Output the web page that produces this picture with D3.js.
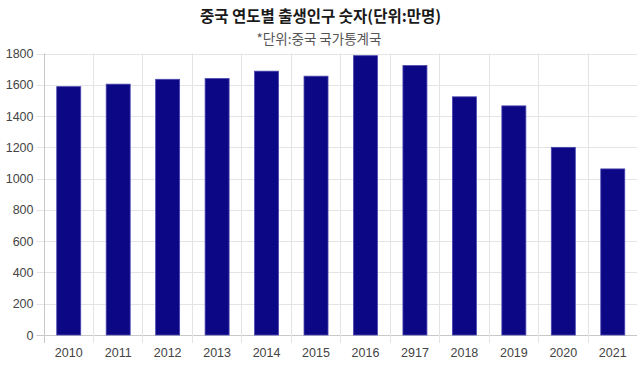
<!DOCTYPE html>
<html><head><meta charset="utf-8">
<script src="https://cdn.jsdelivr.net/npm/d3@7"></script>
<style>
body{margin:0;background:#fff;}
svg{display:block;}
text{font-family:"Liberation Sans",Arial,"Noto Sans CJK KR",sans-serif;}
</style></head>
<body>
<svg id="chart" width="640" height="366"></svg>
<script>
const title = "중국 연도별 출생인구 숫자(단위:만명)";
const subtitle = "*단위:중국 국가통계국";
const years = ["2010","2011","2012","2013","2014","2015","2016","2917","2018","2019","2020","2021"];
const births = [1588,1604,1635,1640,1687,1655,1786,1723,1523,1465,1200,1062];
const yTicks = [0,200,400,600,800,1000,1200,1400,1600,1800];

const W = 640, H = 366;
const m = {left: 43.5, right: 3, top: 53.5, bottom: 31};
const svg = d3.select("#chart");
const x = d3.scaleBand().domain(years).range([m.left, W - m.right]).padding(0);
const y = d3.scaleLinear().domain([0,1800]).range([H - m.bottom, m.top]);
const grid = "#e4e4e4";

// horizontal grid + ticks
svg.append("g").selectAll("line").data(yTicks).join("line")
  .attr("x1", m.left - 7).attr("x2", W - m.right)
  .attr("y1", d => Math.round(y(d)) + 0.5).attr("y2", d => Math.round(y(d)) + 0.5)
  .attr("stroke", d => d === 0 ? "#c8c8c8" : grid).attr("stroke-width", 1);

// vertical grid lines at category boundaries
const bounds = years.map(d => x(d));
svg.append("g").selectAll("line").data(bounds).join("line")
  .attr("x1", d => Math.round(d) + 0.5).attr("x2", d => Math.round(d) + 0.5)
  .attr("y1", m.top).attr("y2", H - m.bottom + 8)
  .attr("stroke", (d,i) => i === 0 ? "#c8c8c8" : grid).attr("stroke-width", 1);

// y labels
svg.append("g").selectAll("text").data(yTicks).join("text")
  .attr("x", m.left - 10).attr("y", d => y(d) + 4.5)
  .attr("text-anchor", "end").attr("font-size", 12.5).attr("fill", "#444")
  .text(d => d);

// x labels
svg.append("g").selectAll("text").data(years).join("text")
  .attr("x", d => x(d) + x.bandwidth()/2 + 0.5).attr("y", H - 9.5)
  .attr("text-anchor", "middle").attr("font-size", 12.5).attr("fill", "#444")
  .text(d => d);

// bars
const bw = 24;
svg.append("g").selectAll("rect").data(years).join("rect")
  .attr("x", d => x(d) + (x.bandwidth() - bw)/2 + 0.5)
  .attr("width", bw)
  .attr("y", (d,i) => y(births[i]))
  .attr("height", (d,i) => y(0) - y(births[i]))
  .attr("fill", "#0c0784")
  .attr("stroke", "#4a47b0").attr("stroke-width", 0.8);

// titles
svg.append("text").attr("x", 320.5).attr("y", 22).attr("text-anchor","middle")
  .attr("font-size", 15.5).attr("font-weight","bold").attr("fill","#1a1a1a")
  .style("font-family", "'Noto Sans CJK KR', sans-serif").text(title);
svg.append("text").attr("x", 319).attr("y", 44).attr("text-anchor","middle")
  .attr("font-size", 13.5).attr("fill","#555")
  .style("font-family", "'Noto Sans CJK KR', sans-serif").text(subtitle);
</script>
</body></html>
